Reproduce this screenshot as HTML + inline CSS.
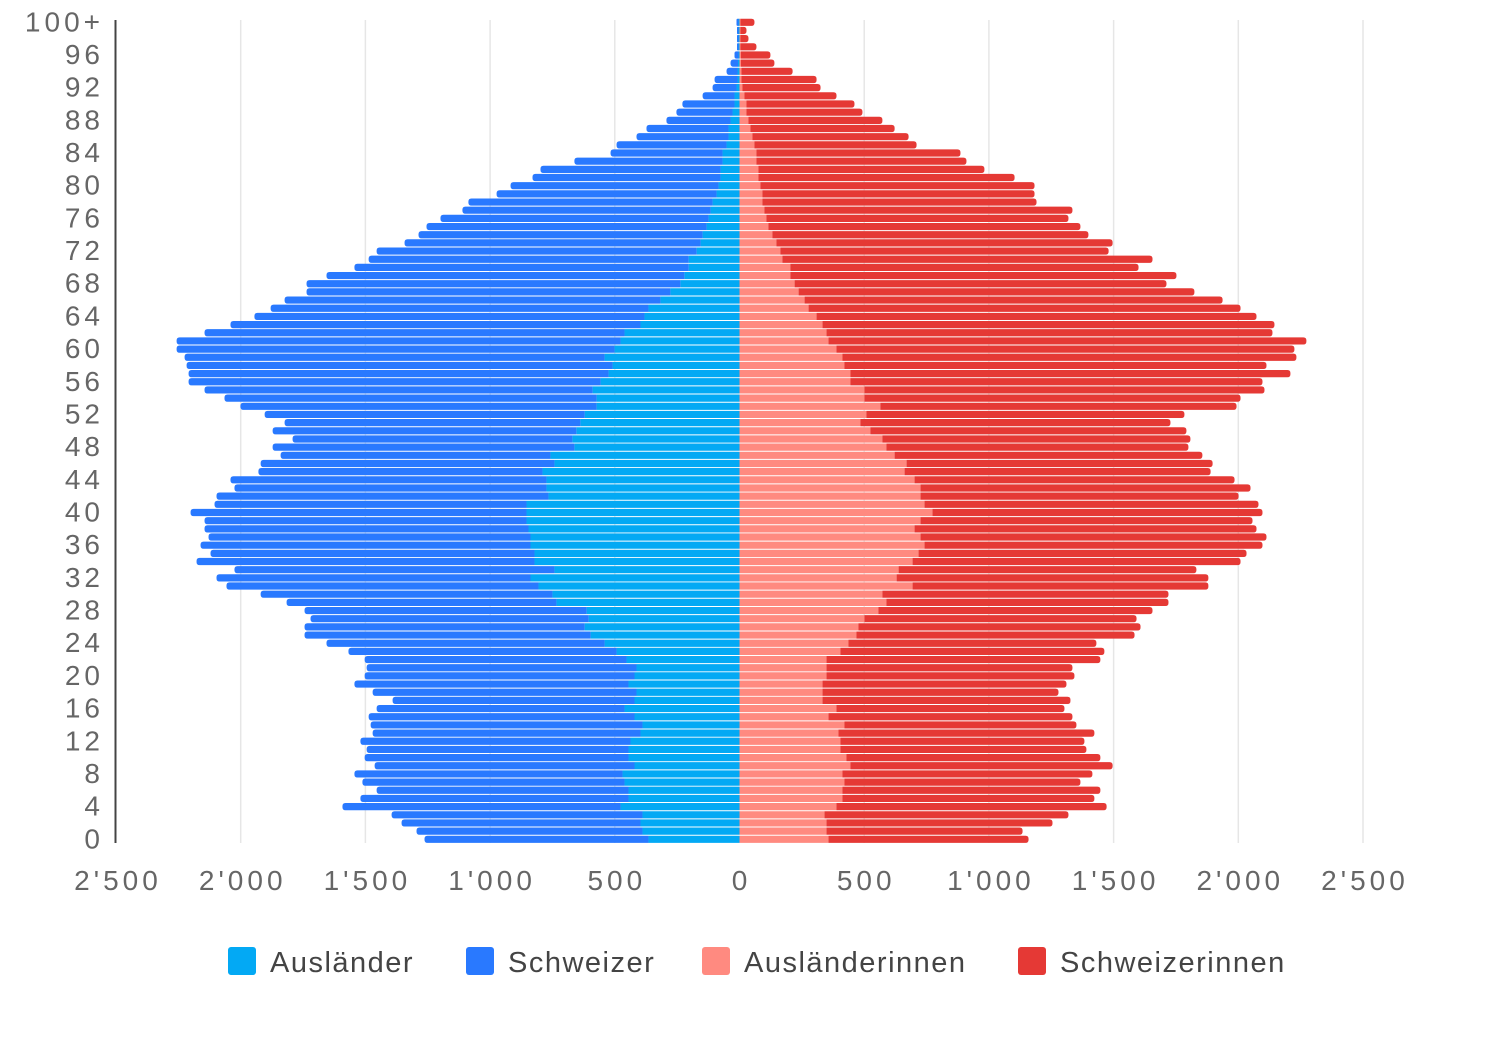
<!DOCTYPE html>
<html><head><meta charset="utf-8">
<style>
html,body{margin:0;padding:0;background:#fff;}
svg{display:block;font-family:"Liberation Sans",sans-serif;}
</style></head>
<body>
<svg id="chart" width="1512" height="1042" viewBox="0 0 1512 1042" xmlns="http://www.w3.org/2000/svg"></svg>
<script>
const ages = Array.from({length:101},(_,i)=>i);
const auslaender = [365,389,397,389,477,445,445,461,469,421,445,445,437,397,389,421,461,421,413,445,421,413,453,493,541,597,621,605,613,734,750,806,838,742,822,822,838,838,846,854,854,854,766,774,774,790,742,758,662,670,654,638,621,573,573,589,557,525,509,541,501,477,461,397,381,365,317,277,237,221,204,204,172,156,148,132,124,116,108,92,84,76,76,68,68,52,44,44,36,28,20,20,12,8,8,6,4,4,4,4,4];
const schweizer = [898,906,958,1006,1115,1075,1010,1051,1075,1042,1058,1050,1083,1074,1090,1066,994,970,1058,1099,1082,1082,1050,1075,1115,1147,1123,1115,1131,1082,1170,1251,1259,1283,1355,1299,1323,1291,1299,1291,1347,1251,1331,1251,1267,1139,1178,1082,1210,1122,1218,1186,1283,1428,1492,1556,1652,1684,1708,1684,1756,1780,1684,1644,1564,1515,1507,1459,1499,1435,1340,1283,1283,1187,1139,1123,1075,995,979,882,834,754,722,594,449,441,369,329,257,225,209,128,96,92,44,30,16,6,6,6,8];
const auslaenderinnen = [357,349,349,341,389,413,413,421,413,445,429,405,405,397,421,357,389,333,333,333,349,349,349,405,437,469,477,501,557,589,573,694,630,638,694,718,742,726,702,726,774,742,726,726,702,662,670,622,589,573,525,485,509,565,501,501,445,445,421,413,389,357,349,333,309,277,261,237,221,204,204,172,164,148,132,116,108,100,92,92,84,76,76,68,68,60,52,44,36,28,28,20,12,8,8,6,6,4,4,4,4];
const schweizerinnen = [802,786,906,978,1083,1010,1034,946,1002,1051,1018,986,978,1026,930,978,914,994,946,978,994,986,1098,1058,994,1115,1131,1091,1099,1131,1147,1186,1250,1194,1315,1315,1355,1387,1371,1331,1323,1339,1275,1323,1283,1227,1227,1234,1211,1235,1267,1243,1275,1428,1508,1604,1652,1764,1692,1820,1836,1916,1788,1812,1764,1732,1676,1587,1491,1548,1396,1484,1316,1348,1267,1251,1211,1235,1099,1091,1099,1027,906,842,818,650,626,578,537,465,433,369,313,301,205,134,118,64,32,24,56];
const xTicks = [-2500,-2000,-1500,-1000,-500,0,500,1000,1500,2000,2500];
const xTickLabels = ["2'500","2'000","1'500","1'000","500","0","500","1'000","1'500","2'000","2'500"];
const yTicks = [0,4,8,12,16,20,24,28,32,36,40,44,48,52,56,60,64,68,72,76,80,84,88,92,96,100];
const yTickLabels = ["0","4","8","12","16","20","24","28","32","36","40","44","48","52","56","60","64","68","72","76","80","84","88","92","96","100+"];

const NS="http://www.w3.org/2000/svg";
const svg=document.getElementById('chart');
const X0=739.5, K=0.2494;
const x=v=>X0+v*K;
const yc=a=>839.3-a*8.17;
const BH=7.2;
function el(t,attrs,parent){const e=document.createElementNS(NS,t);for(const k in attrs)e.setAttribute(k,attrs[k]);(parent||svg).appendChild(e);return e;}

const grid=el('g',{});


xTicks.forEach((t,i)=>{
  if(t!==0 && t!==-2500){
    const l=el('line',{x1:x(t),x2:x(t),y1:20,y2:843,stroke:'#e6e6e6','stroke-width':1.5},grid);
    
    
  }
  const tx=el('text',{x:x(t)+2,y:890,'text-anchor':'middle','font-size':28,fill:'#666','letter-spacing':4});
  tx.textContent=xTickLabels[i];
  
  
});
yTicks.forEach((a,i)=>{
  const tx=el('text',{x:104,y:yc(a)+9,'text-anchor':'end','font-size':28,fill:'#666','letter-spacing':4});
  tx.textContent=yTickLabels[i];
  
  
});

function bar(x1,x2,y,color,name,roundLeft,roundRight){
  const w=Math.max(0,x2-x1), r=Math.min(3,w/2,BH/2);
  const t=y-BH/2,b=y+BH/2;
  const rl=roundLeft?r:0, rr=roundRight?r:0;
  const d=`M${x1+rl},${t} H${x2-rr} Q${x2},${t} ${x2},${t+rr} V${b-rr} Q${x2},${b} ${x2-rr},${b} H${x1+rl} Q${x1},${b} ${x1},${b-rl} V${t+rl} Q${x1},${t} ${x1+rl},${t} Z`;
  const p=el('path',{d:d,fill:color});
  
  
}
ages.forEach((a,i)=>{
  const y=yc(a);
  const al=auslaender[i], sl=schweizer[i], ar=auslaenderinnen[i], sr=schweizerinnen[i];
  bar(x(-al),x(0),y,'#03a9f4','bar-auslaender',false,false);
  bar(x(-al-sl),x(-al),y,'#2979ff','bar-schweizer',true,false);
  bar(x(0),x(ar),y,'#ff8a80','bar-auslaenderinnen',false,false);
  bar(x(ar),x(ar+sr),y,'#e53935','bar-schweizerinnen',false,true);
});
const ax=el('line',{x1:115.5,x2:115.5,y1:20,y2:843,stroke:'#444','stroke-width':2});



const legend=[["Ausländer","#03a9f4",228],["Schweizer","#2979ff",466],["Ausländerinnen","#ff8a80",702],["Schweizerinnen","#e53935",1018]];
legend.forEach(([t,c,lx])=>{
  const g=el('g',{});
  
  
  el('rect',{x:lx,y:947,width:28,height:28,rx:3,fill:c},g);
  const tx=el('text',{x:lx+42,y:972,'font-size':29,fill:'#444','letter-spacing':1.5},g);
  tx.textContent=t;
});
</script>
</body></html>
